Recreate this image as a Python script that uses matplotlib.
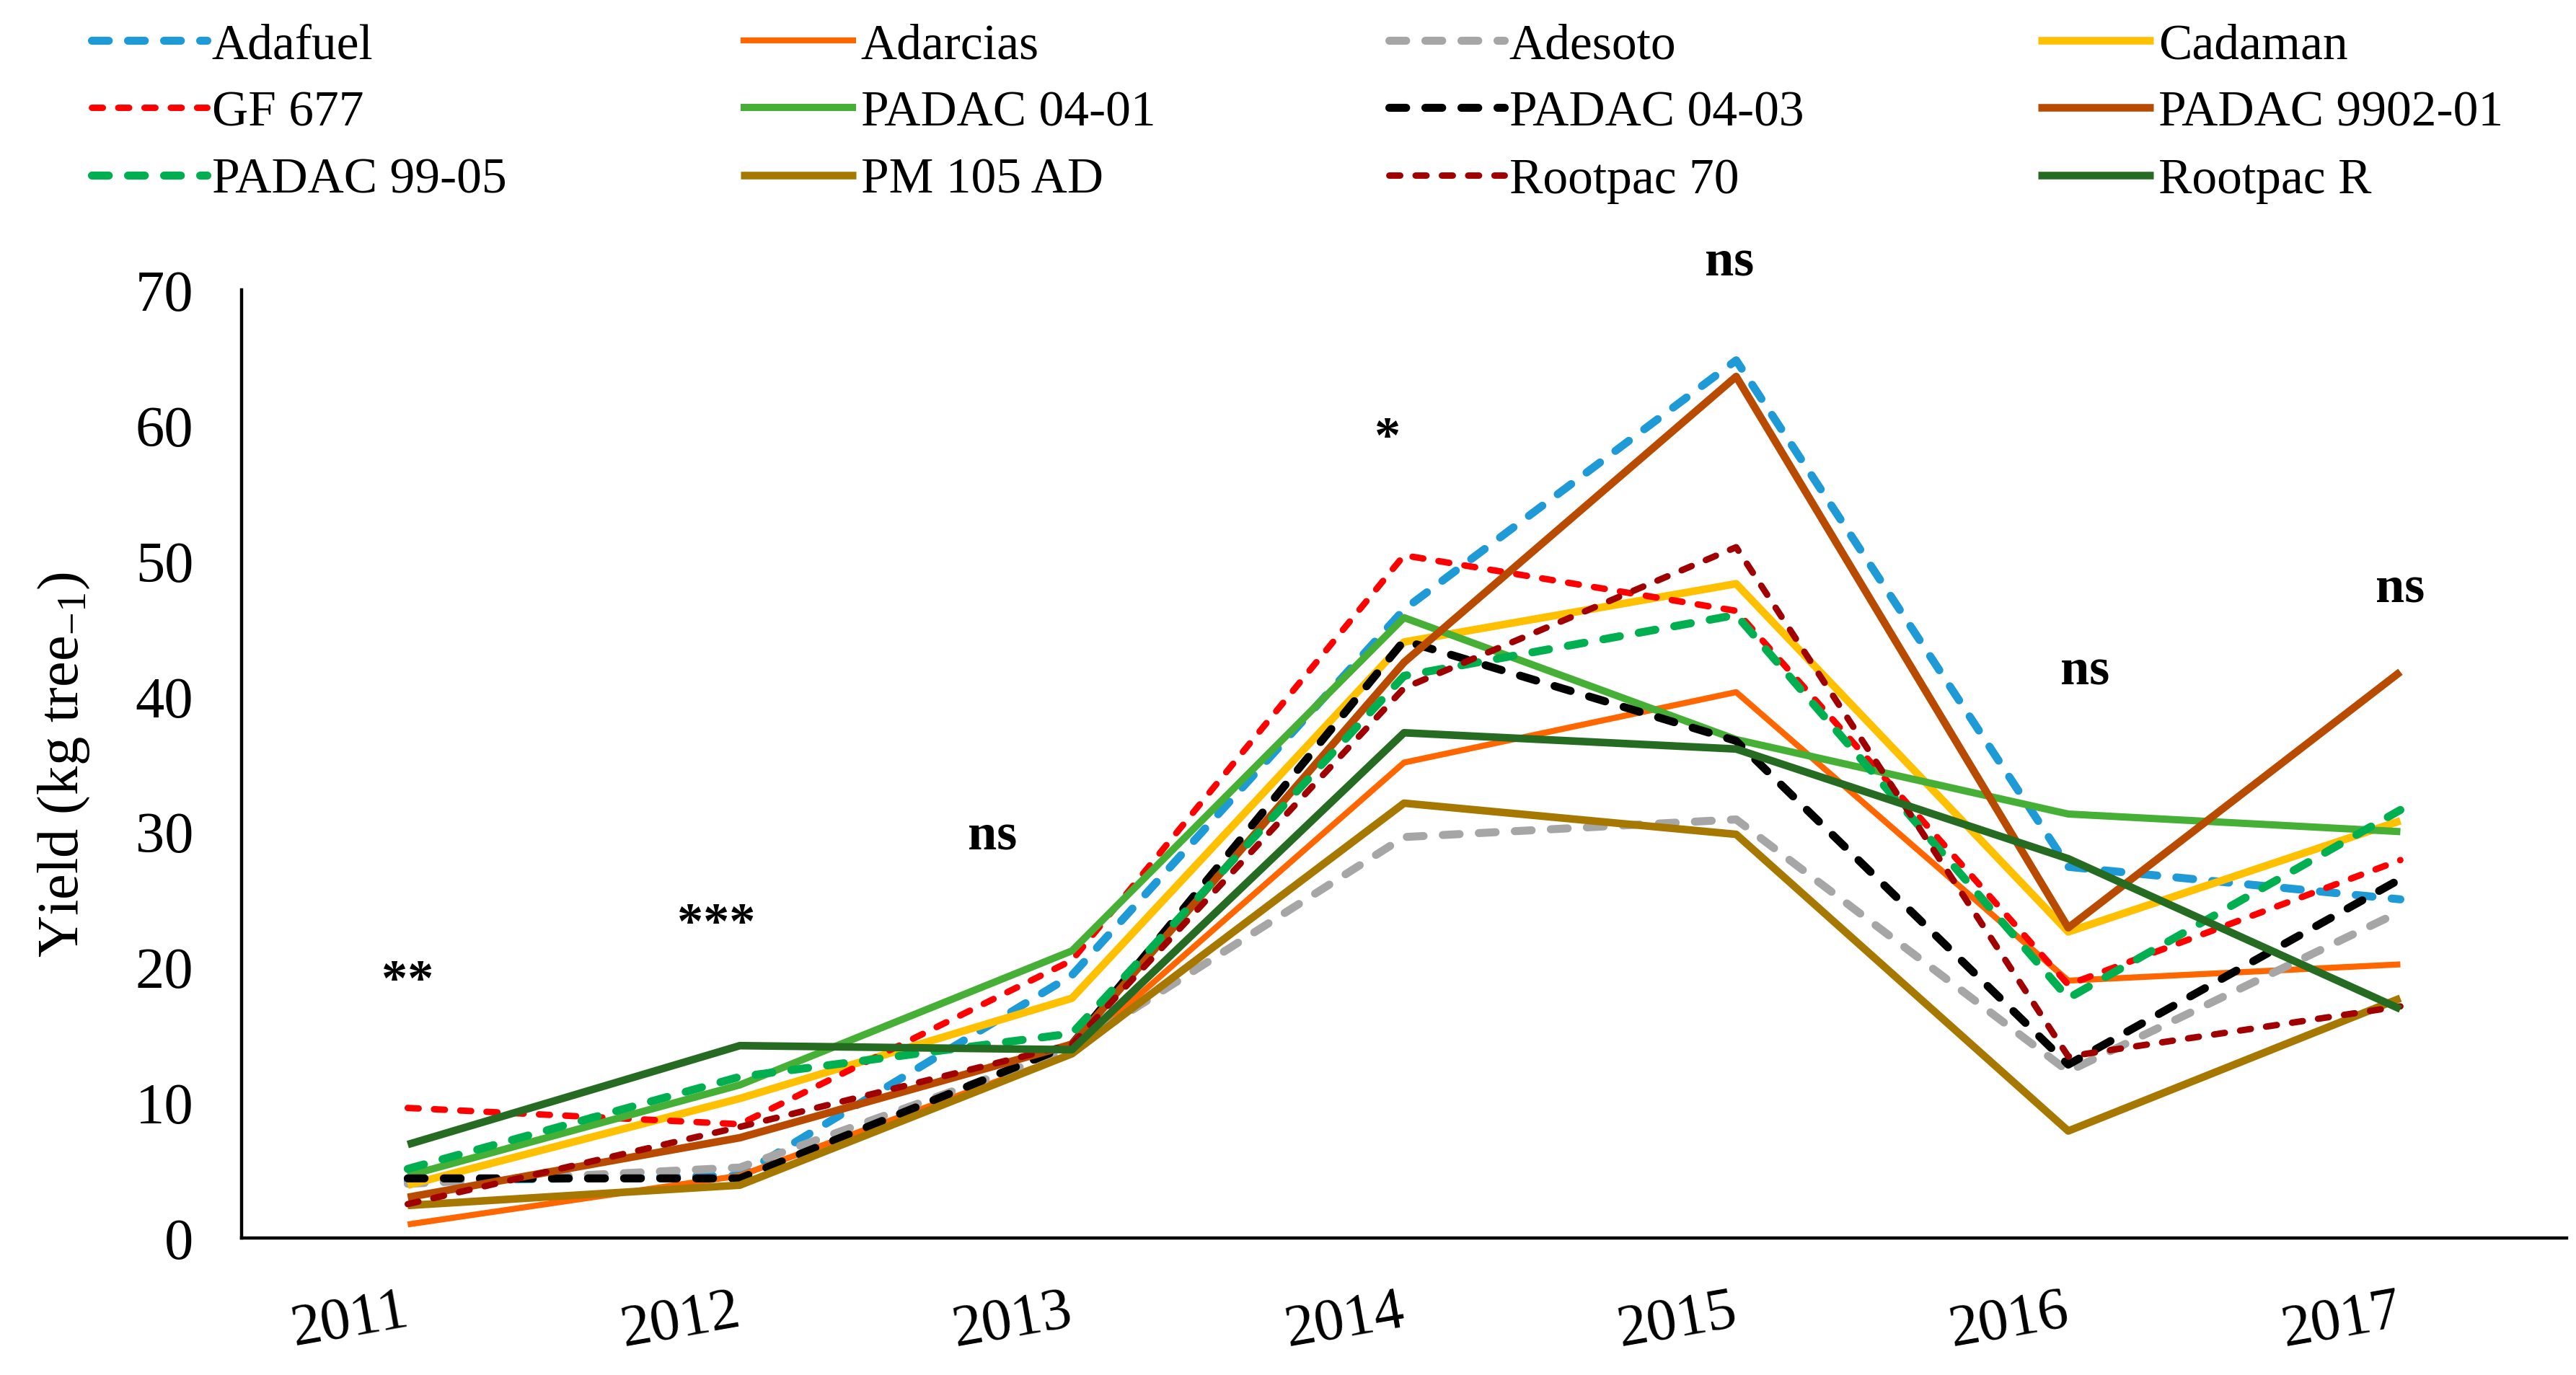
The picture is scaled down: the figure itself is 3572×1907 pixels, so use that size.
import numpy as np
import matplotlib.pyplot as plt

years = ['2011', '2012', '2013', '2014', '2015', '2016', '2017']

adafuel = [4.2, 4.6, 19.4, 46.4, 64.8, 27.4, 25.0]
adarcias = [1.0, 4.6, 13.6, 35.1, 40.3, 19.0, 20.2]
adesoto = [4.0, 5.2, 14.0, 29.6, 30.9, 12.3, 24.1]
cadaman = [3.9, 10.3, 17.7, 44.0, 48.3, 22.6, 30.8]
gf677 = [9.6, 8.4, 20.5, 50.4, 46.3, 18.7, 27.9]
padac0401 = [4.6, 11.3, 21.2, 45.8, 36.8, 31.3, 30.0]
padac0403 = [4.4, 4.4, 14.3, 44.1, 36.7, 12.8, 26.5]
padac9902 = [3.0, 7.4, 14.3, 42.5, 63.6, 22.9, 41.8]
padac9905 = [5.1, 11.9, 15.1, 41.5, 46.0, 17.7, 31.6]
pm105 = [2.4, 3.9, 13.6, 32.1, 29.8, 7.9, 17.7]
rootpac70 = [2.5, 8.2, 14.3, 40.6, 51.0, 13.4, 17.1]
rootpacR = [6.9, 14.2, 13.9, 37.3, 36.1, 28.0, 16.9]

names = ['Adafuel', 'Adarcias', 'Adesoto', 'Cadaman', 'GF 677', 'PADAC 04-01',
         'PADAC 04-03', 'PADAC 9902-01', 'PADAC 99-05', 'PM 105 AD',
         'Rootpac 70', 'Rootpac R']
series = [adafuel, adarcias, adesoto, cadaman, gf677, padac0401,
          padac0403, padac9902, padac9905, pm105, rootpac70, rootpacR]

# significance labels per year
sig_labels = ['**', '***', 'ns', '*', 'ns', 'ns', 'ns']
sig_y = [18.0, 22.2, 28.7, 58.1, 71.1, 40.9, 47.0]
sig_dx = [0.0, -0.07, -0.24, -0.05, -0.02, 0.05, 0.0]

long_dash = (2.1, 2.4)
short_dash = (1.7, 2.4)
styles = [
    ('#1E9BD7', long_dash, 4.0),
    ('#FF6600', None, 3.0),
    ('#A6A6A6', long_dash, 4.0),
    ('#FFC000', None, 3.8),
    ('#FF0000', short_dash, 3.2),
    ('#45B035', None, 3.6),
    ('#000000', long_dash, 4.0),
    ('#B84B00', None, 3.8),
    ('#00B050', long_dash, 4.0),
    ('#A67800', None, 3.8),
    ('#A00000', short_dash, 3.2),
    ('#266B22', None, 3.8),
]

plt.rcParams['font.family'] = ['Liberation Serif', 'DejaVu Serif']
plt.rcParams['mathtext.fontset'] = 'custom'
plt.rcParams['mathtext.rm'] = 'Liberation Serif'
plt.rcParams['mathtext.it'] = 'Liberation Serif:italic'

fig = plt.figure(figsize=(17.865, 9.54), dpi=200)
ax = fig.add_axes([0.0938, 0.0996, 0.9022, 0.6892])

x = np.arange(len(years))
lines = []
for name, vals, (col, dash, lw) in zip(names, series, styles):
    if dash is None:
        ln, = ax.plot(x, vals, color=col, lw=lw, label=name,
                      solid_joinstyle='round', solid_capstyle='butt')
    else:
        ln, = ax.plot(x, vals, color=col, lw=lw, label=name, linestyle=(0, dash),
                      dash_capstyle='round', dash_joinstyle='round')
    lines.append(ln)

for i, (lab, yv, dx) in enumerate(zip(sig_labels, sig_y, sig_dx)):
    ax.text(i + dx, yv, lab, ha='center', va='baseline', fontsize=26,
            fontweight='bold', clip_on=False)

ax.set_xlim(-0.5, 6.5)
ax.set_ylim(0, 70)
ax.set_yticks(np.arange(0, 71, 10))
ax.set_xticks(x)
ax.set_xticklabels(years, rotation=10, ha='right', va='center',
                   rotation_mode='anchor')
ax.tick_params(axis='x', length=0, pad=36, labelsize=30)
ax.tick_params(axis='y', length=0, pad=24, labelsize=29)

for s in ['top', 'right']:
    ax.spines[s].set_visible(False)
for s in ['left', 'bottom']:
    ax.spines[s].set_linewidth(1.6)
    ax.spines[s].set_color('black')

ax.set_ylabel('Yield (kg tree$_{-1}$)', fontsize=29, labelpad=22)

col_x = [0.0355, 0.2874, 0.539, 0.791]
for c in range(4):
    fig.legend(handles=[lines[c], lines[c + 4], lines[c + 8]],
               loc='upper left', bbox_to_anchor=(col_x[c], 0.983),
               frameon=False, fontsize=25, handlelength=2.3,
               handletextpad=0.1, labelspacing=0.43,
               borderpad=0, borderaxespad=0)

fig.savefig('out.png', dpi=200)
